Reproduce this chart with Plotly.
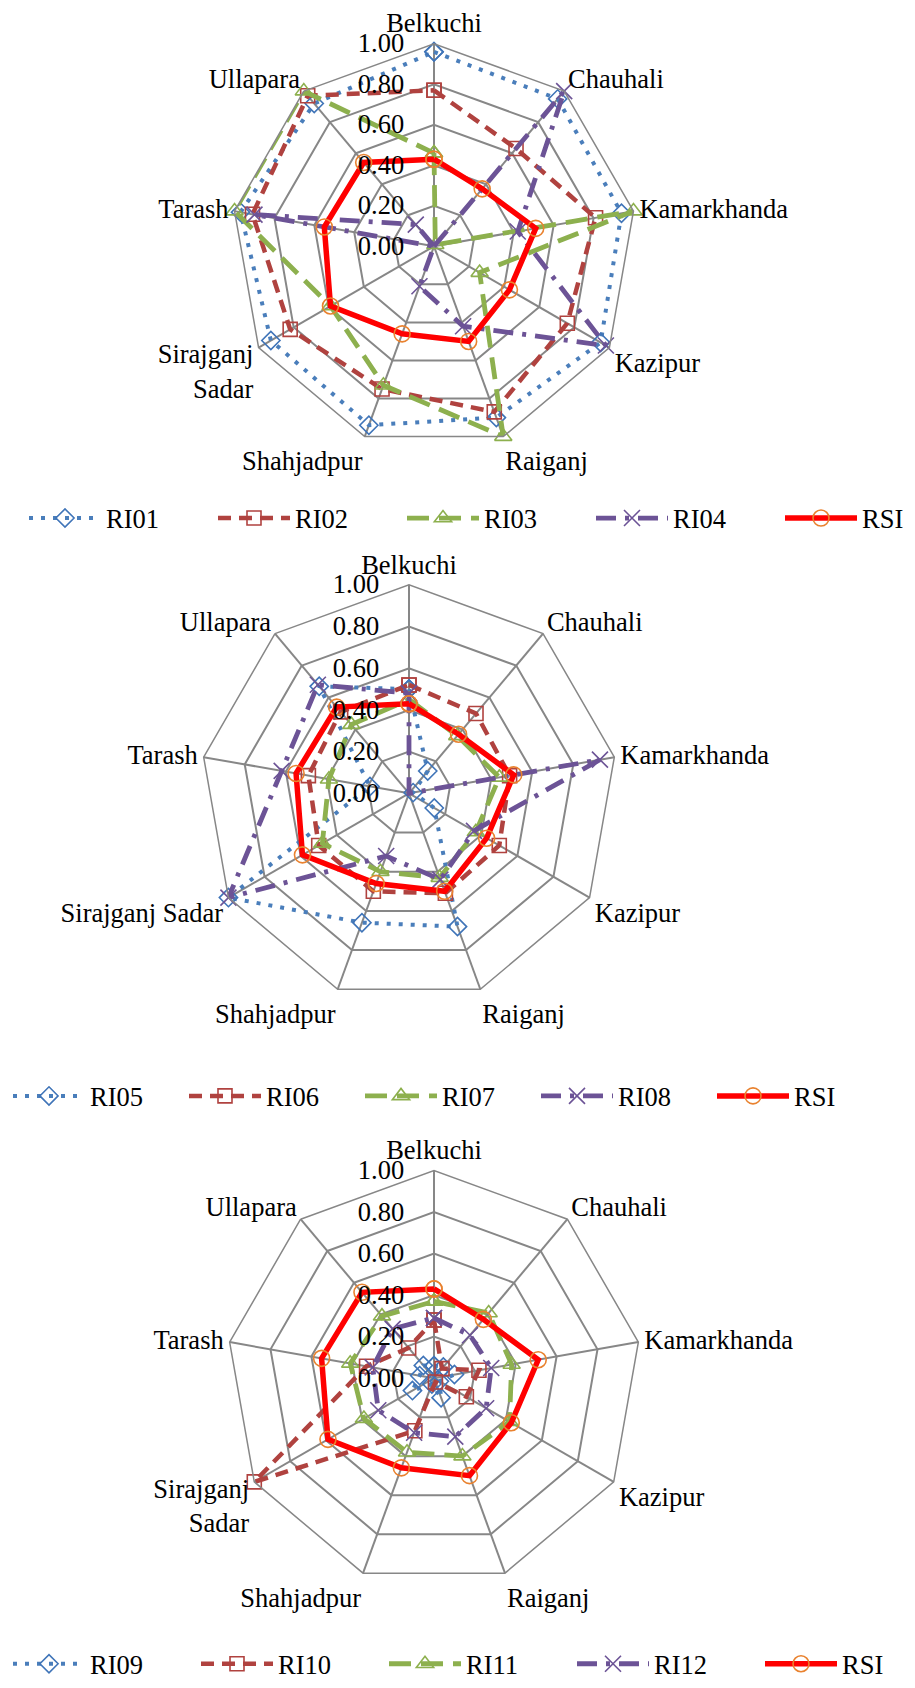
import plotly.graph_objects as go

# ---------------- data ----------------
categories = ["Belkuchi", "Chauhali", "Kamarkhanda", "Kazipur", "Raiganj",
              "Shahjadpur", "Sirajganj Sadar", "Tarash", "Ullapara"]
labels_wrapped = ["Belkuchi", "Chauhali", "Kamarkhanda", "Kazipur", "Raiganj",
                  "Shahjadpur", "Sirajganj<br>Sadar", "Tarash", "Ullapara"]
labels_flat = categories

radial_ticks = [0.0, 0.2, 0.4, 0.6, 0.8, 1.0]
radial_ticktext = ["0.00", "0.20", "0.40", "0.60", "0.80", "1.00"]

RSI = [0.43, 0.37, 0.51, 0.43, 0.50, 0.46, 0.59, 0.55, 0.54]

RI01 = [0.96, 0.95, 0.94, 0.95, 0.90, 0.94, 0.93, 0.97, 0.92]
RI02 = [0.77, 0.63, 0.81, 0.76, 0.87, 0.75, 0.82, 0.91, 0.97]
RI03 = [0.46, 0.01, 1.00, 0.26, 1.00, 0.73, 0.59, 1.00, 1.00]
RI04 = [0.00, 1.00, 0.42, 0.98, 0.42, 0.21, 0.00, 0.90, 0.14]

RI05 = [0.50, 0.14, 0.02, 0.14, 0.68, 0.66, 1.00, 0.19, 0.67]
RI06 = [0.52, 0.50, 0.49, 0.50, 0.51, 0.50, 0.50, 0.49, 0.51]
RI07 = [0.45, 0.36, 0.44, 0.37, 0.43, 0.40, 0.48, 0.39, 0.43]
RI08 = [0.48, 0.00, 0.93, 0.36, 0.44, 0.32, 1.00, 0.62, 0.68]

RI09 = [0.06, 0.07, 0.10, 0.03, 0.10, 0.03, 0.12, 0.07, 0.08]
RI10 = [0.28, 0.06, 0.22, 0.18, 0.02, 0.27, 1.00, 0.33, 0.19]
RI11 = [0.37, 0.41, 0.38, 0.42, 0.40, 0.38, 0.39, 0.41, 0.39]
RI12 = [0.29, 0.27, 0.28, 0.29, 0.30, 0.28, 0.31, 0.30, 0.31]

groups = [
    [("RI01", RI01), ("RI02", RI02), ("RI03", RI03), ("RI04", RI04), ("RSI", RSI)],
    [("RI05", RI05), ("RI06", RI06), ("RI07", RI07), ("RI08", RI08), ("RSI", RSI)],
    [("RI09", RI09), ("RI10", RI10), ("RI11", RI11), ("RI12", RI12), ("RSI", RSI)],
]

# ---------------- styles ----------------
FONT = "Liberation Serif"
FSIZE = 26.5
GRID = "#878787"
styles = [
    dict(color="#4A7EBB", dash="4px,8px", width=4, symbol="diamond-open", size=14, mcolor="#3F74B8"),
    dict(color="#B0423F", dash="13px,8px", width=4.5, symbol="square-open", size=14, mcolor="#B0423F"),
    dict(color="#8DB04E", dash="22px,10px", width=4.8, symbol="triangle-up-open", size=15, mcolor="#8DB04E"),
    dict(color="#6C5396", dash="20px,9px,4px,9px", width=4.8, symbol="x-thin-open", size=16, mcolor="#6C5396"),
    dict(color="#FF0000", dash="solid", width=5.5, symbol="circle-open", size=16, mcolor="#E9822F"),
]

OFF = 8  # page body margin
W, H = 915 - OFF, 1688 - OFF
charts = [
    dict(cx=434, cy=248, R=204, labels=labels_wrapped, leg_y=522, leg_x=26, entry=102),
    dict(cx=409, cy=799, R=210, labels=labels_flat, leg_y=1104, leg_x=8, entry=89),
    dict(cx=434, cy=1388, R=209, labels=labels_wrapped, leg_y=1676, leg_x=8, entry=101),
]

fig = go.Figure()
layout = dict(width=W, height=H, margin=dict(l=0, r=0, t=0, b=0),
              paper_bgcolor="white", plot_bgcolor="white",
              font=dict(family=FONT, size=FSIZE, color="black"))

for gi, (grp, ch) in enumerate(zip(groups, charts)):
    pname = "polar" if gi == 0 else f"polar{gi + 1}"
    lname = "legend" if gi == 0 else f"legend{gi + 1}"
    for (name, vals), st in zip(grp, styles):
        fig.add_trace(go.Scatterpolar(
            r=list(vals) + [vals[0]],
            theta=categories + [categories[0]],
            mode="lines+markers",
            name=name,
            subplot=pname,
            legend=lname,
            legendwidth=48 if name == "RSI" else None,
            line=dict(color=st["color"], width=st["width"], dash=st["dash"]),
            marker=dict(symbol=st["symbol"], size=st["size"], color=st["mcolor"],
                        line=dict(color=st["mcolor"], width=1.6)),
        ))
    cx, cy, R = ch["cx"] - OFF, ch["cy"] - OFF, ch["R"]
    layout[pname] = dict(
        domain=dict(x=[(cx - R) / W, (cx + R) / W], y=[1 - (cy + R) / H, 1 - (cy - R) / H]),
        bgcolor="white",
        gridshape="linear",
        angularaxis=dict(
            type="category", categoryarray=categories,
            tickvals=categories, ticktext=ch["labels"],
            direction="clockwise", rotation=90,
            showline=True, linecolor=GRID, linewidth=1.5,
            gridcolor=GRID, gridwidth=1.5, ticks="",
            tickfont=dict(family=FONT, size=FSIZE, color="black"),
        ),
        radialaxis=dict(
            range=[0, 1], tickvals=radial_ticks, ticktext=radial_ticktext,
            angle=90, side="counterclockwise", showline=False,
            gridcolor=GRID, gridwidth=1.5,
            ticks="outside", ticklen=20, tickcolor="rgba(0,0,0,0)", tickangle=90,
            tickfont=dict(family=FONT, size=FSIZE, color="black"),
        ),
    )
    layout[lname] = dict(
        orientation="h", x=max(ch["leg_x"] - OFF, 0) / W, xanchor="left",
        y=1 - (ch["leg_y"] - OFF) / H, yanchor="middle",
        itemwidth=72, entrywidth=ch["entry"], entrywidthmode="pixels",
        font=dict(family=FONT, size=FSIZE, color="black"),
        bgcolor="rgba(0,0,0,0)", traceorder="normal",
    )

fig.update_layout(**layout)
fig.write_html("out.html")
